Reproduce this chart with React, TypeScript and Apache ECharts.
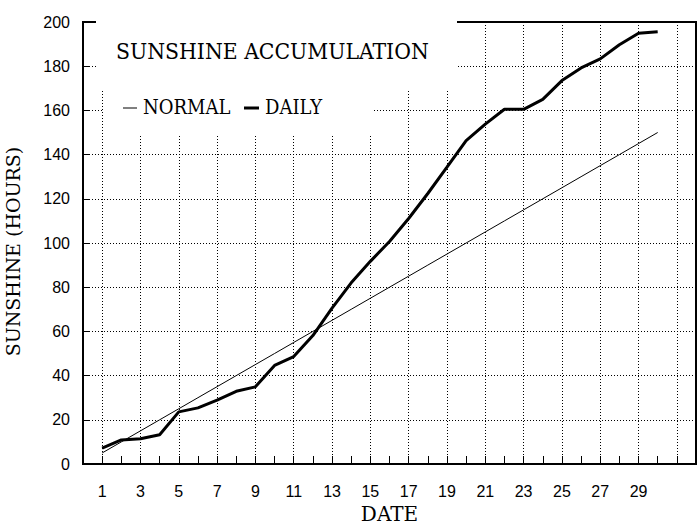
import React, { useEffect, useRef } from 'react';
import * as echarts from 'echarts';

// Categories of the date axis (day 0 .. day 32)
const dateCategories: string[] = [
  '0', '1', '2', '3', '4', '5', '6', '7', '8', '9', '10', '11', '12', '13', '14', '15', '16',
  '17', '18', '19', '20', '21', '22', '23', '24', '25', '26', '27', '28', '29', '30', '31', '32',
];
// Days that carry data
const days: string[] = [
  '1', '2', '3', '4', '5', '6', '7', '8', '9', '10', '11', '12', '13', '14', '15',
  '16', '17', '18', '19', '20', '21', '22', '23', '24', '25', '26', '27', '28', '29', '30',
];
// Normal accumulated sunshine (hours)
const normalHours: number[] = [
  5, 10, 15, 20, 25, 30, 35, 40, 45, 50, 55, 60, 65, 70, 75,
  80, 85, 90, 95, 100, 105, 110, 115, 120, 125, 130, 135, 140, 145, 150,
];
// Daily accumulated sunshine (hours)
const dailyHours: number[] = [
  7.2, 10.9, 11.4, 13.2, 23.6, 25.4, 28.9, 32.9, 34.9, 44.6, 48.6, 58.1, 70.5, 82, 91.7,
  100.7, 111.1, 122.4, 134.3, 146.3, 153.8, 160.5, 160.5, 165, 173.5, 179.2, 183.3, 189.7, 194.9, 195.6,
];
const titleText = 'SUNSHINE ACCUMULATION';
const normalLabel = 'NORMAL';
const dailyLabel = 'DAILY';
const xName = 'DATE';
const yName = 'SUNSHINE (HOURS)';

const SERIF = "'DejaVu Serif', 'Liberation Serif', serif";
const SERIF_C = "'DejaVu Serif Condensed', 'DejaVu Serif', 'Liberation Serif', serif";
const SANS = "'Liberation Sans', Arial, sans-serif";

export default function App() {
  const ref = useRef<HTMLDivElement>(null);

  useEffect(() => {
    if (!ref.current) return;
    const chart = echarts.init(ref.current, undefined, { renderer: 'svg' });
    const dotted = { color: '#000', width: 1, type: [1, 2] as number[] };

    chart.setOption({
      animation: false,
      backgroundColor: '#fff',
      grid: {
        left: 83,
        right: -2,
        top: 22,
        bottom: 61,
        show: true,
        borderColor: '#000',
        borderWidth: 2,
        backgroundColor: 'transparent',
      },
      xAxis: {
        type: 'category',
        data: dateCategories,
        boundaryGap: false,
        name: xName,
        nameLocation: 'middle',
        nameGap: 40,
        nameTextStyle: { fontFamily: SERIF, fontSize: 20, color: '#000' },
        axisLine: { show: true, lineStyle: { color: '#000', width: 2 } },
        axisTick: { show: true, inside: true, length: 8, interval: 0, lineStyle: { color: '#000', width: 1 } },
        axisLabel: {
          interval: 0,
          margin: 19,
          fontFamily: SANS,
          fontSize: 16,
          color: '#000',
          formatter: (v: string) => {
            const n = Number(v);
            return n % 2 === 1 && n <= 29 ? v : '';
          },
        },
        splitLine: {
          show: true,
          interval: (index: number) => index % 2 === 1 && index < 32,
          lineStyle: dotted,
        },
      },
      yAxis: {
        type: 'value',
        min: 0,
        max: 200,
        interval: 20,
        axisLine: { show: true, lineStyle: { color: '#000', width: 2 } },
        axisTick: { show: true, inside: true, length: 6, lineStyle: { color: '#000', width: 1 } },
        axisLabel: { margin: 13, fontFamily: SANS, fontSize: 16, color: '#000' },
        splitLine: { show: true, lineStyle: dotted },
      },
      series: [
        {
          name: normalLabel,
          type: 'line',
          data: days.map((d, i) => [d, normalHours[i]]),
          symbol: 'none',
          lineStyle: { color: '#000', width: 1 },
          z: 3,
        },
        {
          name: dailyLabel,
          type: 'line',
          data: days.map((d, i) => [d, dailyHours[i]]),
          symbol: 'none',
          lineStyle: { color: '#000', width: 3 },
          z: 4,
        },
      ],
      graphic: [
        { type: 'rect', z: 100, shape: { x: 96, y: 19, width: 361, height: 71 }, style: { fill: '#fff' } },
        { type: 'rect', z: 100, shape: { x: 104, y: 89, width: 269, height: 45 }, style: { fill: '#fff' } },
        {
          type: 'text', z: 101, x: 116, y: 51,
          style: { text: titleText, font: `22.7px ${SERIF_C}`, fill: '#000', align: 'left', verticalAlign: 'middle' },
        },
        { type: 'line', z: 101, shape: { x1: 123, y1: 108, x2: 137, y2: 108 }, style: { stroke: '#000', lineWidth: 1 } },
        {
          type: 'text', z: 101, x: 143, y: 107,
          style: { text: normalLabel, font: `20px ${SERIF_C}`, fill: '#000', align: 'left', verticalAlign: 'middle' },
        },
        { type: 'line', z: 101, shape: { x1: 244, y1: 108, x2: 259, y2: 108 }, style: { stroke: '#000', lineWidth: 3 } },
        {
          type: 'text', z: 101, x: 265, y: 107,
          style: { text: dailyLabel, font: `20px ${SERIF_C}`, fill: '#000', align: 'left', verticalAlign: 'middle' },
        },
        {
          type: 'text', z: 101, x: 12.5, y: 251.5, rotation: Math.PI / 2,
          style: { text: yName, font: `19px ${SERIF}`, fill: '#000', align: 'center', verticalAlign: 'middle' },
        },
      ],
    });

    return () => chart.dispose();
  }, []);

  return (
    <div
      ref={ref}
      style={{ position: 'fixed', left: 0, top: 0, width: 699, height: 529, background: '#fff' }}
    />
  );
}
